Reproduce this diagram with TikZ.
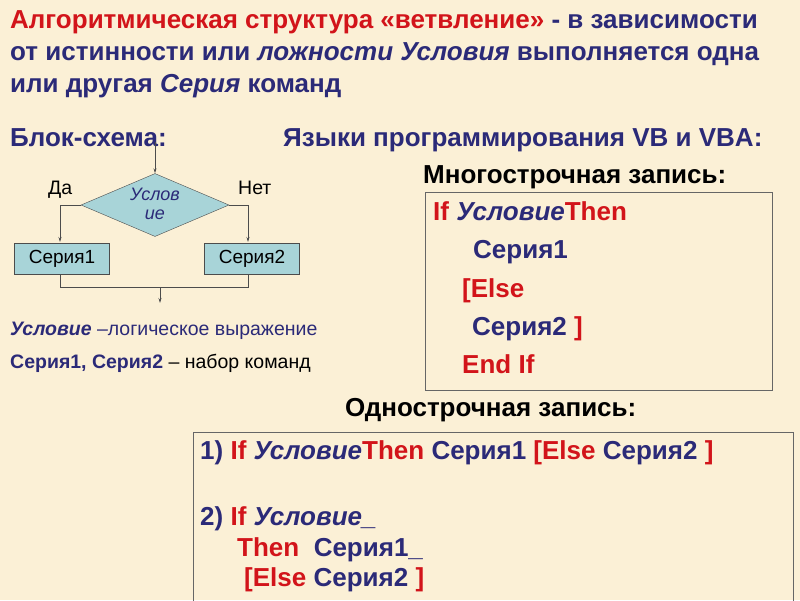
\documentclass[tikz,border=0pt]{standalone}
\usepackage{fontspec}
\setmainfont{Liberation Sans}
\usetikzlibrary{shapes.geometric,arrows.meta}
\definecolor{bg}{HTML}{FBF0D6}
\definecolor{navy}{HTML}{2B2A78}
\definecolor{dred}{HTML}{D2141A}
\definecolor{lb}{HTML}{A8D4D8}
\tikzset{
 t/.style={anchor=base west,inner sep=0pt,font=\bfseries\fontsize{26}{30}\selectfont},
 s/.style={anchor=base west,inner sep=0pt,font=\fontsize{19.5}{23}\selectfont},
 ln/.style={draw=black!70,line width=0.8pt},
 ar/.style={ln,-{Stealth[length=5pt,width=3pt]}},
 blk/.style={draw=black!70,fill=lb,minimum width=95pt,minimum height=31pt,font=\fontsize{19}{22}\selectfont,inner sep=0pt}
}
\begin{document}
\begin{tikzpicture}[x=1pt,y=-1pt]
\fill[bg] (0,0) rectangle (800,600);
\useasboundingbox (0,0) rectangle (800,600);
\node[t,text=navy] (l1) at (10,28) {\textcolor{dred}{Алгоритмическая структура «ветвление»} - в зависимости};
\node[t,text=navy] (l2) at (10,60) {от истинности или \textit{ложности Условия} выполняется одна};
\node[t,text=navy] (l3) at (10,92) {или другая \textit{Серия} команд};
\node[t,text=navy] (h1) at (10,146) {Блок-схема:};
\node[t,text=navy] (h2) at (283,146) {Языки программирования VB и VBA:};
\node[t,text=black] (h3) at (423,183) {Многострочная запись:};
\draw[draw=black!60,line width=0.8pt] (425,192) rectangle (772,390);
\node[t,text=dred] (m1) at (433,220) {If \textcolor{navy}{\textit{Условие}}Then};
\node[t,text=navy] (m2) at (473,258) {Серия1};
\node[t,text=dred] (m3) at (462,297) {[Else};
\node[t,text=navy] (m4) at (472,335) {Серия2 \textcolor{dred}{]}};
\node[t,text=dred] (m5) at (462,373) {End If};
\node[t,text=black] (h4) at (345,416) {Однострочная запись:};
\draw[draw=black!60,line width=0.8pt] (193,601) -- (193,432) -- (793,432) -- (793,601);
\node[t,text=navy] (o1) at (200,459) {1) \textcolor{dred}{If} \textit{Условие}\textcolor{dred}{Then} Серия1 \textcolor{dred}{[Else} Серия2 \textcolor{dred}{]}};
\node[t,text=navy] (o2) at (200,525) {2) \textcolor{dred}{If} \textit{Условие\_}};
\node[t,text=navy] (o3) at (237,556) {\textcolor{dred}{Then} \ Серия1\_};
\node[t,text=navy] (o4) at (244,586) {\textcolor{dred}{[Else} Серия2 \textcolor{dred}{]}};
% flowchart
\coordinate (in) at (155,142);
\node[diamond,draw=black!70,fill=lb,minimum width=148pt,minimum height=63pt,inner sep=0pt,aspect=2.35] (d) at (155,205) {};
\node[font=\itshape\fontsize{18}{20}\selectfont,text=navy,align=center] (dt) at (155,204) {Услов\\[-1pt]ие};
\draw[ar] (in) -- (d.north);
\node[blk] (b1) at (62,258.5) {Серия1};
\node[blk] (b2) at (252,258.5) {Серия2};
\node[s] (da) at (48,194) {Да};
\node[s] (net) at (238,194) {Нет};
\draw[ar] (d.west) -| (60,242);
\draw[ar] (d.east) -| (248,242);
\coordinate (j) at (160,287);
\coordinate (out) at (160,303);
\draw[ln] (60,274) |- (248,287) -- (248,274);
\draw[ar] (j) -- (out);
\node[s,text=navy] (u1) at (10,335) {\textbf{\textit{Условие}} –логическое выражение};
\node[s] (u2) at (10,368) {\textcolor{navy}{\textbf{Серия1, Серия2}} – набор команд};
\end{tikzpicture}
\end{document}
